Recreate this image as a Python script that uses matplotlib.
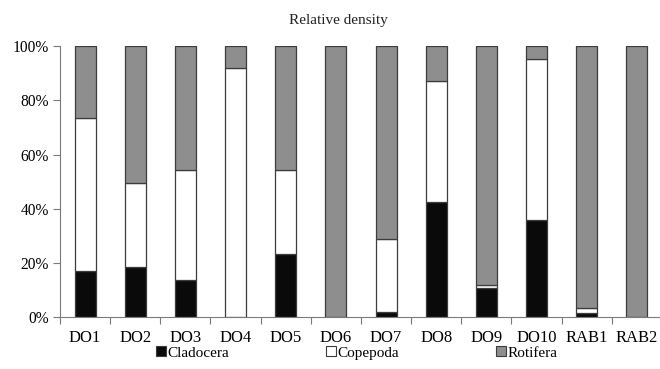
import matplotlib
matplotlib.use("Agg")
import matplotlib.pyplot as plt
from matplotlib.lines import Line2D
from matplotlib.ticker import FixedLocator, PercentFormatter
import numpy as np

plt.rcParams['font.family'] = ['Liberation Serif', 'DejaVu Serif']

sites = ["DO1", "DO2", "DO3", "DO4", "DO5", "DO6", "DO7", "DO8", "DO9", "DO10", "RAB1", "RAB2"]
cladocera = [17.0, 18.5, 13.6, 0.0, 23.3, 0.3, 2.0, 42.4, 10.8, 35.9, 1.5, 0.0]
copepoda = [56.6, 31.1, 40.8, 92.0, 30.9, 0.0, 27.0, 44.6, 1.2, 59.4, 2.0, 0.0]
rotifera = [26.4, 50.4, 45.6, 8.0, 45.8, 99.7, 71.0, 13.0, 88.0, 4.7, 96.5, 100.0]

groups = ["Cladocera", "Copepoda", "Rotifera"]
colors = ["#0a0a0a", "#ffffff", "#8e8e8e"]
edge = "#3c3c3c"

fig = plt.figure(figsize=(6.6, 3.69), dpi=100)
ax = fig.add_axes([0.0909, 0.140, 0.912, 0.735])

x = np.arange(len(sites))
bottom = np.zeros(len(sites))
for vals, col, name in zip([cladocera, copepoda, rotifera], colors, groups):
    v = np.array(vals)
    ax.bar(x, v, width=0.42, bottom=bottom, color=col, edgecolor=edge,
           linewidth=0.9, label=name)
    bottom += v

ax.set_xlim(-0.5, len(sites) - 0.5)
ax.set_ylim(0, 100)
ax.set_yticks(np.arange(0, 101, 20))
ax.yaxis.set_major_formatter(PercentFormatter(decimals=0))
ax.set_xticks(x)
ax.set_xticklabels(sites)
ax.xaxis.set_minor_locator(FixedLocator(np.arange(-0.5, len(sites), 1.0)))
ax.tick_params(axis='x', which='major', length=0, pad=9, labelsize=12)
ax.tick_params(axis='x', which='minor', length=5, width=0.8, color="#7a7a7a", direction='out')
ax.tick_params(axis='y', length=5, width=0.8, color="#7a7a7a", labelsize=11.2, pad=3)

for s in ["top", "right"]:
    ax.spines[s].set_visible(False)
for s in ["left", "bottom"]:
    ax.spines[s].set_color("#7a7a7a")
    ax.spines[s].set_linewidth(0.8)

fig.text(0.512, 0.945, "Relative density", fontsize=11, ha='center', va='center',
         color="#222222")

handles = [Line2D([], [], marker='s', linestyle='none', markersize=7.5,
                  markerfacecolor=c, markeredgecolor=edge, markeredgewidth=0.8)
           for c in colors]
fig.legend(handles, groups, loc='center', bbox_to_anchor=(0.541, 0.044),
           ncol=3, frameon=False, fontsize=11, handletextpad=0.1,
           columnspacing=6.4, handlelength=0.6, borderpad=0, borderaxespad=0)

fig.savefig("out.png", dpi=100)
